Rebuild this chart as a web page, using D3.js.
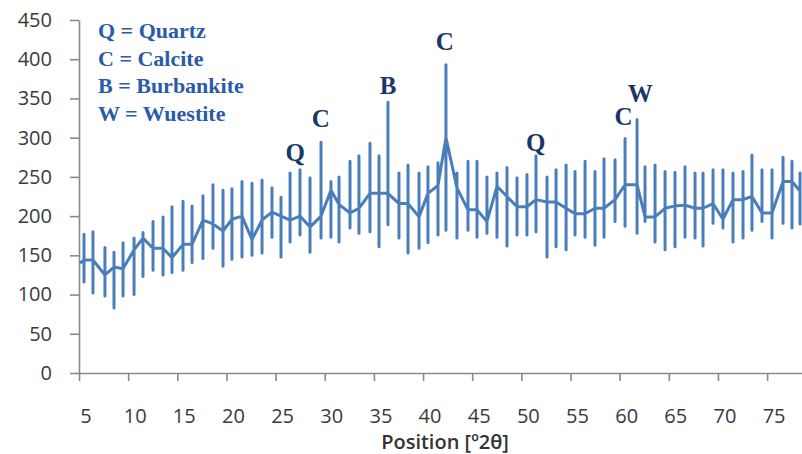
<!DOCTYPE html>
<meta charset="utf-8">
<style>
    body { margin: 0; background: #fff; }
    .axis path, .axis line {
        stroke: #8a8a8a;
        stroke-width: 1.6px;
    }
    .axis text {
        font-family: "Open Sans", sans-serif;
        font-size: 20px;
        fill: #3a3a3a;
    }
    .pattern {
        fill: none;
        stroke: #4a7ebb;
        stroke-width: 3px;
        stroke-linejoin: round;
    }
    .axis-label {
        font-family: "Open Sans", sans-serif;
        font-size: 20px;
        font-weight: 600;
        fill: #333;
    }
    .key {
        font-family: "Liberation Serif", "Times New Roman", serif;
        font-size: 22px;
        font-weight: bold;
        fill: #2a5aa8;
    }
    .peak {
        font-family: "Liberation Serif", "Times New Roman", serif;
        font-size: 25px;
        font-weight: bold;
        fill: #1b3766;
    }
</style>
<svg width="802" height="454"></svg>
<script src="https://cdnjs.cloudflare.com/ajax/libs/d3/7.8.5/d3.min.js"></script>
<script>
    // 2-theta position of each spike, with its high and low count and the background level
    const barPos = [5.51, 6.42, 7.64, 8.56, 9.48, 10.6, 11.51, 12.53, 13.55, 14.46,
        15.58, 16.5, 17.61, 18.63, 19.65, 20.56, 21.58, 22.6, 23.62, 24.63,
        25.55, 26.47, 27.48, 28.5, 29.62, 30.63, 31.45, 32.57, 33.48, 34.6,
        35.52, 36.43, 37.55, 38.47, 39.59, 40.5, 41.52, 42.33, 43.45, 44.57,
        45.49, 46.5, 47.52, 48.54, 49.56, 50.57, 51.49, 52.61, 53.53, 54.55,
        55.46, 56.48, 57.49, 58.41, 59.53, 60.55, 61.77, 62.58, 63.6, 64.62,
        65.63, 66.65, 67.67, 68.48, 69.5, 70.51, 71.53, 72.55, 73.46, 74.48,
        75.5, 76.62, 77.53, 78.35];
    const barTop = [177, 180, 160, 154, 166, 172, 179, 193, 199, 212,
        219, 213, 226, 240, 233, 235, 244, 242, 246, 236,
        224, 255, 259, 249, 294, 244, 250, 270, 277, 293,
        277, 345, 255, 265, 255, 263, 268, 393, 255, 270,
        270, 250, 255, 262, 249, 253, 277, 250, 259, 265,
        257, 270, 257, 273, 272, 299, 323, 263, 265, 257,
        256, 263, 255, 255, 259, 259, 255, 257, 278, 259,
        259, 275, 270, 255];
    const barBottom = [116, 102, 98, 83, 98, 100, 123, 131, 125, 128,
        131, 141, 146, 159, 136, 145, 148, 150, 153, 173,
        148, 167, 176, 154, 172, 173, 167, 185, 178, 180,
        161, 189, 172, 153, 159, 166, 176, 182, 172, 182,
        173, 178, 173, 162, 176, 176, 180, 148, 161, 157,
        176, 173, 163, 173, 193, 187, 178, 193, 167, 157,
        161, 173, 172, 162, 191, 185, 167, 172, 182, 193,
        172, 191, 185, 190];
    const baseLevel = [144, 144, 125, 135, 133, 157, 172, 159, 159, 147,
        164, 164, 195, 190, 181, 196, 200, 170, 195, 205,
        200, 195, 200, 186, 200, 233, 215, 204, 210, 229,
        229, 229, 216, 216, 199, 229, 239, 300, 236, 208,
        208, 193, 238, 225, 212, 212, 221, 218, 218, 210,
        203, 203, 210, 210, 221, 240, 240, 199, 199, 210,
        213, 214, 210, 210, 216, 196, 221, 221, 225, 204,
        204, 244, 244, 232];
    const xTicks = d3.range(5, 80, 5);
    const yTicks = d3.range(0, 451, 50);

    const keyLines = ["Q = Quartz", "C = Calcite", "B = Burbankite", "W = Wuestite"];
    const peakLabels = [
        { text: "Q", pos: 27.0, value: 270 },
        { text: "C", pos: 29.6, value: 313 },
        { text: "B", pos: 36.45, value: 356 },
        { text: "C", pos: 42.2, value: 412 },
        { text: "Q", pos: 51.45, value: 283 },
        { text: "C", pos: 60.4, value: 316 },
        { text: "W", pos: 62.1, value: 345 }
    ];

    const svg = d3.select("svg"),
        margin = { top: 20, right: 0, bottom: 81, left: 79 },
        width = +svg.attr("width") - margin.left - margin.right,
        height = +svg.attr("height") - margin.top - margin.bottom;

    const g = svg.append("g").attr("transform", `translate(${margin.left},${margin.top})`);

    const x = d3.scaleLinear().domain([5, 78.55]).range([0, width]);
    const y = d3.scaleLinear().domain([0, 450]).range([height, 0]);

    // Axes
    const xAxis = g.append("g")
        .attr("class", "axis")
        .attr("transform", `translate(0,${height})`)
        .call(d3.axisBottom(x).tickValues(xTicks).tickSize(8).tickSizeOuter(0));
    xAxis.selectAll("text").attr("dx", 6.5).attr("y", 50).attr("dy", null);

    g.append("g")
        .attr("class", "axis")
        .call(d3.axisLeft(y).tickValues(yTicks).tickSize(9).tickSizeOuter(0).tickPadding(18));

    svg.append("text")
        .attr("class", "axis-label")
        .attr("x", 445)
        .attr("y", 449)
        .attr("text-anchor", "middle")
        .text("Position [º2θ]");

    // Build the trace: background level, up to the high, down to the low, back to background
    const points = [];
    barPos.forEach((p, i) => {
        points.push([p, baseLevel[i]]);
        points.push([p, barTop[i]]);
        points.push([p, barBottom[i]]);
        points.push([p, baseLevel[i]]);
    });
    points.unshift([5.1, 140]);

    const line = d3.line()
        .x(d => x(d[0]))
        .y(d => y(d[1]));

    g.append("path")
        .datum(points)
        .attr("class", "pattern")
        .attr("d", line);

    // Key
    svg.selectAll(".key")
        .data(keyLines)
        .enter().append("text")
        .attr("class", "key")
        .attr("x", 98)
        .attr("y", (d, i) => 38 + i * 27.7)
        .text(d => d);

    // Peak letters
    g.selectAll(".peak")
        .data(peakLabels)
        .enter().append("text")
        .attr("class", "peak")
        .attr("x", d => x(d.pos))
        .attr("y", d => y(d.value))
        .attr("text-anchor", "middle")
        .text(d => d.text);
</script>
